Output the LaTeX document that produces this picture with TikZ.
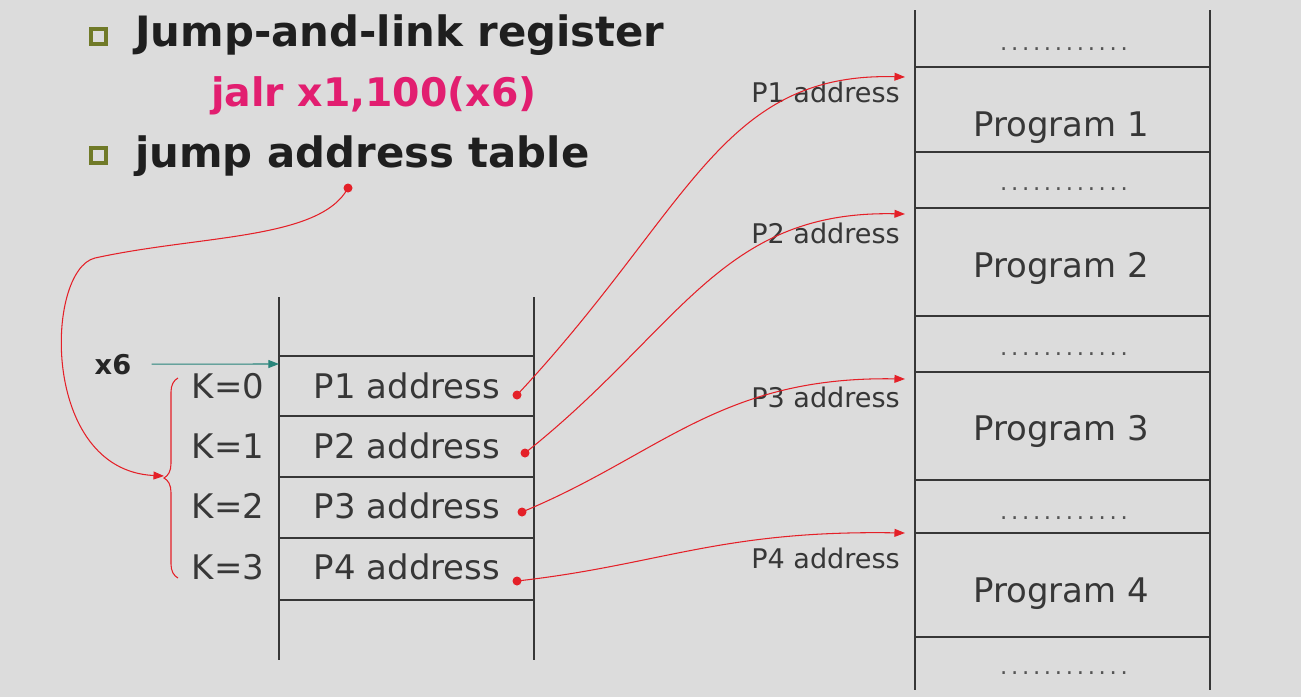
\documentclass[tikz,border=0pt]{standalone}
\usepackage{fontspec}
\setmainfont{DejaVu Sans}
\usetikzlibrary{arrows.meta,decorations.pathreplacing}
\definecolor{bg}{RGB}{220,220,220}
\definecolor{ink}{RGB}{55,55,55}
\definecolor{rd}{RGB}{228,32,40}
\definecolor{mag}{RGB}{226,30,112}
\definecolor{tl}{RGB}{40,132,122}
\definecolor{olv}{RGB}{112,122,40}
\newcommand{\gapdots}{\foreach \q in {1,...,12}{.\hspace{2.1pt}}}
\begin{document}
\begin{tikzpicture}[x=0.02cm, y=-0.02cm,
        head/.style={anchor=base west, text=black!88, font=\fontsize{23.8}{28}\selectfont\bfseries},
        cell/.style={anchor=base, text=ink, font=\fontsize{19.3}{23}\selectfont},
        tag/.style={anchor=base east, text=ink, font=\fontsize{15.4}{18}\selectfont},
        wall/.style={ink, line width=1.1pt},
        link/.style={rd, line width=0.6pt, -{Triangle[length=6pt,width=4.5pt]}},
        dot/.style={fill=rd}]
    \useasboundingbox (0,0) rectangle (1301,697);
    \fill[bg] (0,0) rectangle (1301,697);

    % bullets and headings
    \draw[olv, line width=2pt] (91,29) rectangle (106,44);
    \draw[olv, line width=2pt] (91,148) rectangle (106,163);
    \node[head] (t1) at (129,46) {Jump-and-link register};
    \node[head, text=mag, font=\fontsize{22.4}{26}\selectfont\bfseries] (t2) at (205,106) {jalr x1,100(x6)};
    \node[head] (t3) at (129,167) {jump address table};

    % jump address table
    \draw[wall] (279,297) -- (279,660) (534,297) -- (534,660);
    \foreach \y in {356,416,477,538,600}
        \draw[wall] (279,\y) -- (534,\y);
    \foreach \i/\y in {1/398,2/458,3/518,4/579} {
        \node[cell] (pa\i) at (407,\y) {P\i\ address};
    }
    \foreach \k/\y in {0/398,1/458,2/518,3/579}
        \node[cell] (k\k) at (228,\y) {K=\k};
    \node[anchor=base, font=\fontsize{15.5}{18}\selectfont\bfseries, text=black!85] (x6) at (113,374) {x6};
    \coordinate (top) at (279,364);
    \draw[tl, line width=0.6pt, shorten <=8pt, -{Triangle[length=6pt,width=4.5pt]}] (x6.east) -- (top);

    % memory with the programs
    \draw[wall] (915,10) -- (915,690) (1210,10) -- (1210,690);
    \foreach \y in {67,152,208,316,372,480,533,637}
        \draw[wall] (915,\y) -- (1210,\y);
    \foreach \j/\y in {1/136,2/277,3/440,4/602}
        \node[cell] (prog\j) at (1061,\y) {Program \j};
    \foreach \j/\y in {a/50,b/190,c/355,d/519,e/674}
        \node[cell, text=ink!85, font=\fontsize{13}{16}\selectfont] (gap\j) at (1064,\y) {\gapdots};
    \foreach \j/\y in {1/102,2/243,3/407,4/568}
        \node[tag] (lbl\j) at (906,\y) {P\j\ address};

    % pointers
    \coordinate (d1) at (517,395); \coordinate (e1) at (905,77);
    \coordinate (d2) at (525,453); \coordinate (e2) at (905,214);
    \coordinate (d3) at (522,512); \coordinate (e3) at (905,379);
    \coordinate (d4) at (517,581); \coordinate (e4) at (905,533);
    \coordinate (d0) at (348,188);
    \foreach \n in {0,...,4}
        \fill[dot] (d\n) circle (4.5);
    \draw[link] (d1) .. controls (690,210) and (720,72) .. (e1);
    \draw[link] (d2) .. controls (680,330) and (720,210) .. (e2);
    \draw[link] (d3) .. controls (660,455) and (720,376) .. (e3);
    \draw[link] (d4) .. controls (660,565) and (720,530) .. (e4);

    % index brace
    \draw[rd, line width=0.6pt, decorate, decoration={brace, amplitude=8pt}] (178,578) -- (178,378);
    \coordinate (kb) at (164,476);
    \draw[link] (d0) .. controls (320,240) and (200,235) .. (95,258)
        .. controls (45,270) and (40,470) .. (kb);
\end{tikzpicture}
\end{document}
